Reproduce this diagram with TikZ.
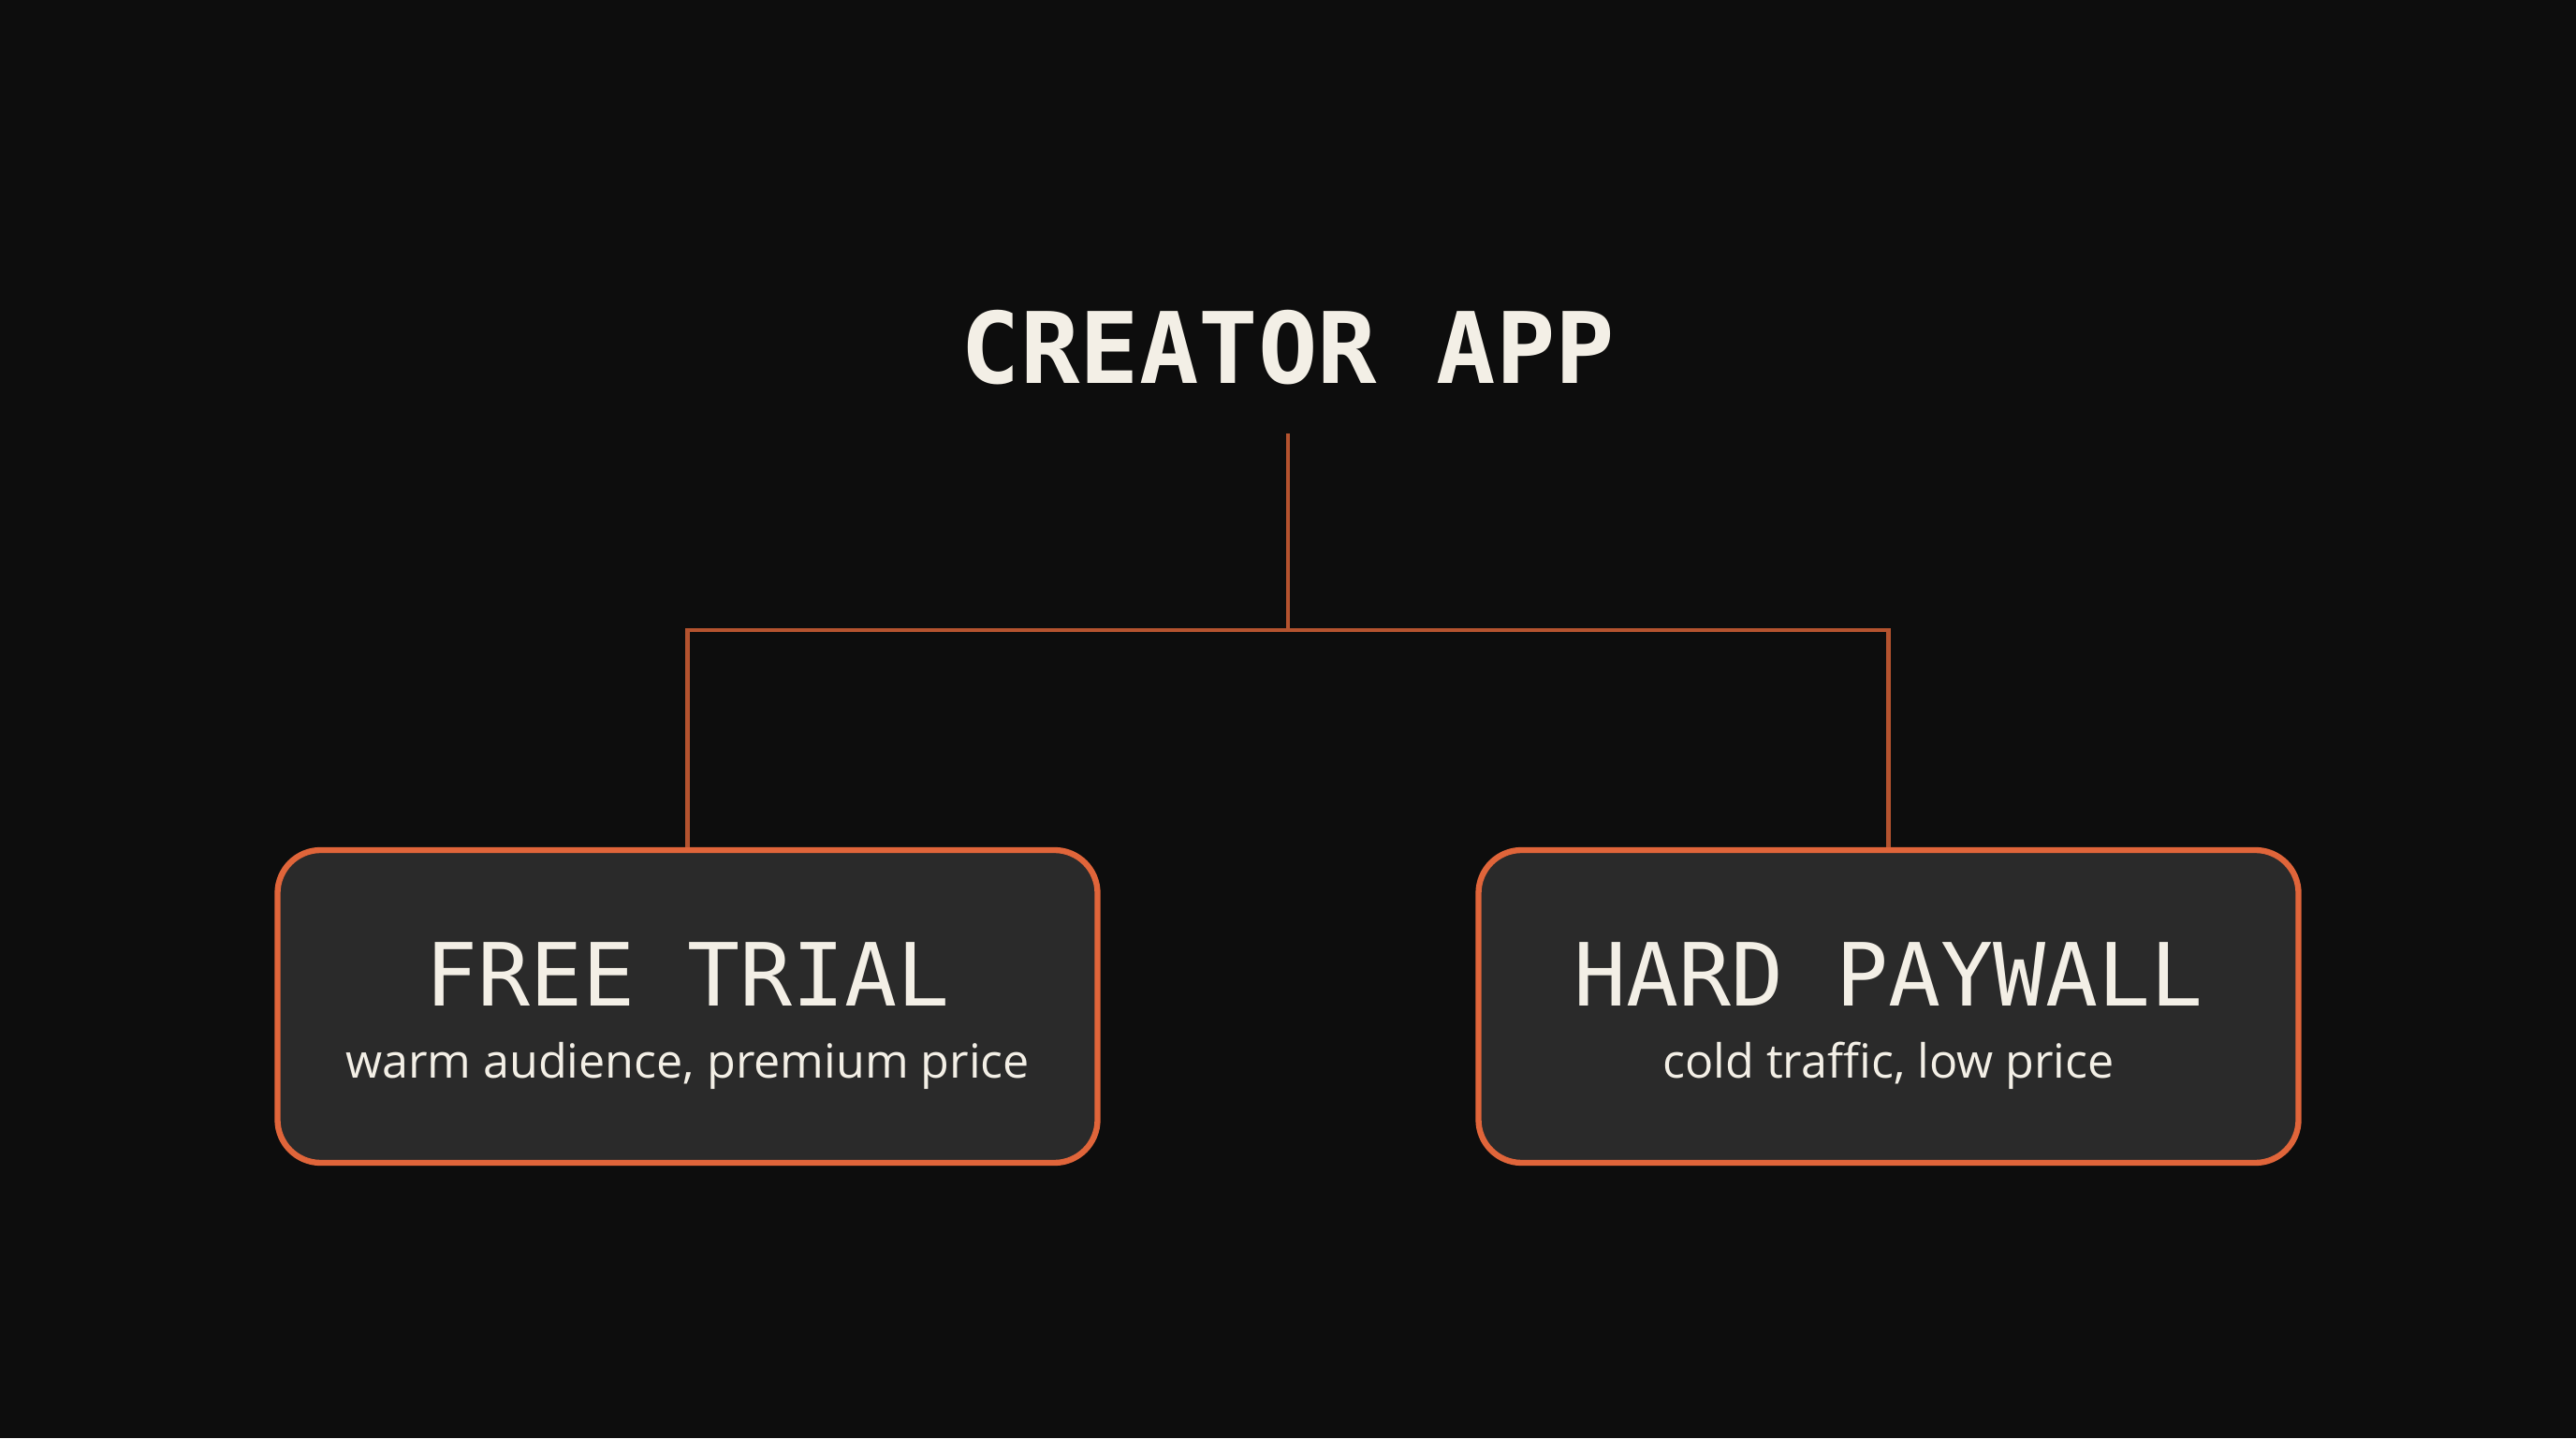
\documentclass[tikz,border=0pt]{standalone}
\usepackage{fontspec}
\setmainfont{Open Sans}
\newfontfamily\monofont{DejaVu Sans Mono}
\definecolor{bgdark}{HTML}{0D0D0D}
\definecolor{boxfill}{HTML}{2A2A2A}
\definecolor{edgeorange}{HTML}{E0653A}
\definecolor{linkorange}{HTML}{B4532F}
\definecolor{cream}{HTML}{F3EFE6}
\begin{document}
\begin{tikzpicture}[scale=1]
        % Define styles
        \tikzset{
            modebox/.style={draw=edgeorange, fill=boxfill, line width=1.8pt, rounded corners=0.46cm,
                minimum width=8.76cm, minimum height=3.34cm},
            link/.style={draw=linkorange, line width=1.4pt},
            headline/.style={text=cream, anchor=base, font=\monofont\fontsize{26.5}{30}\selectfont},
            subline/.style={text=cream, anchor=base, font=\fontsize{14.3}{17}\selectfont},
            apptitle/.style={text=cream, anchor=base, font=\monofont\bfseries\fontsize{30}{34}\selectfont}
        }
        % Background
        \fill[bgdark] (0,0) rectangle (27.52,15.36);
        \useasboundingbox (0,0) rectangle (27.52,15.36);
        % Title and branch point
        \node[apptitle] (title) at (13.76,11.26) {CREATOR APP};
        \coordinate (stem) at (13.76,10.73);
        \coordinate (fork) at (13.76,8.63);
        % The two options
        \node[modebox] (trial) at (7.345,4.61) {};
        \node[modebox] (paywall) at (20.175,4.61) {};
        % Connectors
        \draw[link] (stem) -- (fork);
        \draw[link] (trial.north) |- (fork) -| (paywall.north);
        % Box texts
        \node[headline] (trialhead) at (trial.center) {FREE TRIAL};
        \node[subline] (trialsub) at ([yshift=-0.77cm]trial.center) {warm audience, premium price};
        \node[headline] (paywallhead) at (paywall.center) {HARD PAYWALL};
        \node[subline] (paywallsub) at ([yshift=-0.77cm]paywall.center) {cold traffic, low price};
    \end{tikzpicture}
\end{document}
